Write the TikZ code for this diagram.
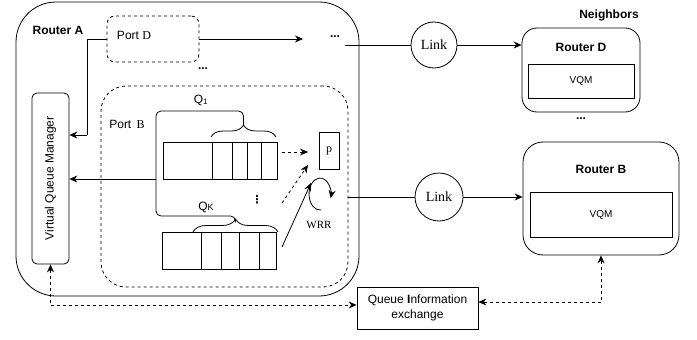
\documentclass[tikz,border=0pt]{standalone}
\usepackage{fontspec}
\setmainfont{Liberation Sans}
\newfontfamily\tmsfont{Liberation Serif}
\newfontfamily\djvfont{DejaVu Sans}
\usetikzlibrary{arrows.meta,decorations.pathreplacing,calc}
\begin{document}
\begin{tikzpicture}[x=1pt,y=-1pt,
  every node/.style={font=\fontsize{12}{14}\selectfont},
  ln/.style={line width=0.8pt},
  box/.style={draw, line width=0.8pt, inner sep=0pt},
  dsh/.style={dash pattern=on 3pt off 3pt},
  tip/.style={-{Stealth[length=8pt,width=7pt]}},
  tips/.style={{Stealth[length=8pt,width=7pt]}-{Stealth[length=8pt,width=7pt]}},
  bold/.style={font=\fontsize{12}{14}\selectfont\bfseries},
  dots/.style={font=\fontsize{12}{14}\selectfont\bfseries},
  serifl/.style={font=\fontsize{14}{16}\selectfont\tmsfont},
  brc/.style={decorate, decoration={brace, amplitude=#1}, line width=0.8pt}
]
\useasboundingbox (0,0) rectangle (697,340);

% Router A
\node[box, rounded corners=40, minimum width=343, minimum height=294] (routerA) at (187.5,149) {};
\node[bold] (routerAl) at (58,30) {Router A};

% Port D
\node[box, dsh, rounded corners=8, minimum width=92, minimum height=46] (portD) at (153,39) {};
\node (portDl) at (134,35) {Port {\tmsfont D}};
\node[dots] (dotsD) at (203,69) {...};

% Port B
\node[box, dsh, rounded corners=25, minimum width=247, minimum height=201] (portB) at (224.5,186.5) {};
\node (portBl) at (127,124) {Port\, {\tmsfont B}};

% VQM
\node[box, rounded corners=5, minimum width=37, minimum height=171] (vqm) at (50.5,178.5) {};
\node[rotate=90] (vqml) at (vqm.center) {Virtual Queue Manager};

% Queue Q1
\node[box, minimum width=114, minimum height=37] (q1) at (220,160.5) {};
\foreach \xx in {212,232,247,261} \draw[ln] (\xx,142) -- (\xx,179);
% Queue QK
\node[box, minimum width=114, minimum height=37] (qk) at (219,250.5) {};
\foreach \xx in {201,221,239,259} \draw[ln] (\xx,232) -- (\xx,269);

% braces
\draw[brc=12pt] (211,137) -- (276,137);
\draw[brc=13pt] (193,232) -- (278,232);
\node (q1l) at (201,100) {Q\textsubscript{1}};
\node (qkl) at (206,207) {Q{\fontsize{9}{9}\selectfont K}};

% bracket line
\coordinate (b1) at (243.5,125);
\coordinate (b2) at (235.5,219);
\coordinate (jn) at (156,179);
\draw[ln, rounded corners=5] (b1) -- (243.5,111) -- (156,111) -- (156,216) -- (235.5,216) -- (b2);
\draw[ln, tip] (jn) -- (jn -| vqm.east);

% p box
\node[box, minimum width=20, minimum height=37, font=\fontsize{12}{14}\selectfont\tmsfont] (p) at (329,150.5) {p};
\node[font=\fontsize{11}{13}\selectfont\tmsfont] (wrr) at (319,225) {WRR};
\node[font=\fontsize{11}{13}\selectfont\djvfont\bfseries] (vd) at (257,200) {⋮};

\coordinate (a1s) at (282,152); \coordinate (a1e) at (308,152);
\draw[ln, dsh, tip] (a1s) -- (a1e);
\coordinate (a2s) at (282,203); \coordinate (a2e) at (308,165);
\draw[ln, dsh, tip] (a2s) -- (a2e);
\coordinate (a3s) at (282,247); \coordinate (a3e) at (311,183);
\draw[ln, tip] (a3s) -- (a3e);

% WRR circular arrow
\draw[ln, tip] (321,210) arc[start angle=85, end angle=375, x radius=11, y radius=16];

% Port D connectors
\draw[ln] (portD.west) -- (87,39) -- (87,135);
\coordinate (pd1) at (87,135);
\draw[ln, tip] (pd1) -- (pd1 -| vqm.east);
\coordinate (dotsTip) at (303,39);
\draw[ln, tip] (portD.east) -- (dotsTip);
\node[dots] (dotsA) at (335,37) {...};

% Links
\node[box, circle, minimum size=46, serifl] (link1) at (434,45) {Link};
\node[box, circle, minimum size=48, serifl] (link2) at (439,197) {Link};
\coordinate (l1s) at (345,45);
\draw[ln] (l1s) -- (link1.west);
\draw[ln] (link2.west -| portB.east) -- (link2.west);

% Neighbors
\node[bold] (neigh) at (609,15) {Neighbors};
\node[box, rounded corners=15, minimum width=118, minimum height=84] (routerD) at (581,70) {};
\node[bold] (routerDl) at (581,47) {Router D};
\node[box, minimum width=106, minimum height=34, font=\fontsize{10}{12}\selectfont] (vqmD) at (581,81) {VQM};
\node[dots] (dotsN) at (581,119) {...};
\node[box, rounded corners=20, minimum width=156, minimum height=113] (routerB) at (601,198.5) {};
\node[bold] (routerBl) at (601,169) {Router B};
\node[box, minimum width=142, minimum height=45, font=\fontsize{10}{12}\selectfont] (vqmB) at (601,214.5) {VQM};

\draw[ln, tip] (link1.east) -- (link1.east -| routerD.west);
\draw[ln, tip] (link2.east) -- (link2.east -| routerB.west);

% Queue information exchange
\node[box, minimum width=121, minimum height=42, align=center, font=\fontsize{12}{15}\selectfont] (qie) at (417.5,308) {Queue \textbf{I}nformation\\exchange};
\draw[ln, dsh, tips] (vqm.south) |- ($(qie.west)+(0,-3)$);
\draw[ln, dsh, tips] (routerB.south) |- ($(qie.east)+(0,-6)$);
\end{tikzpicture}
\end{document}
